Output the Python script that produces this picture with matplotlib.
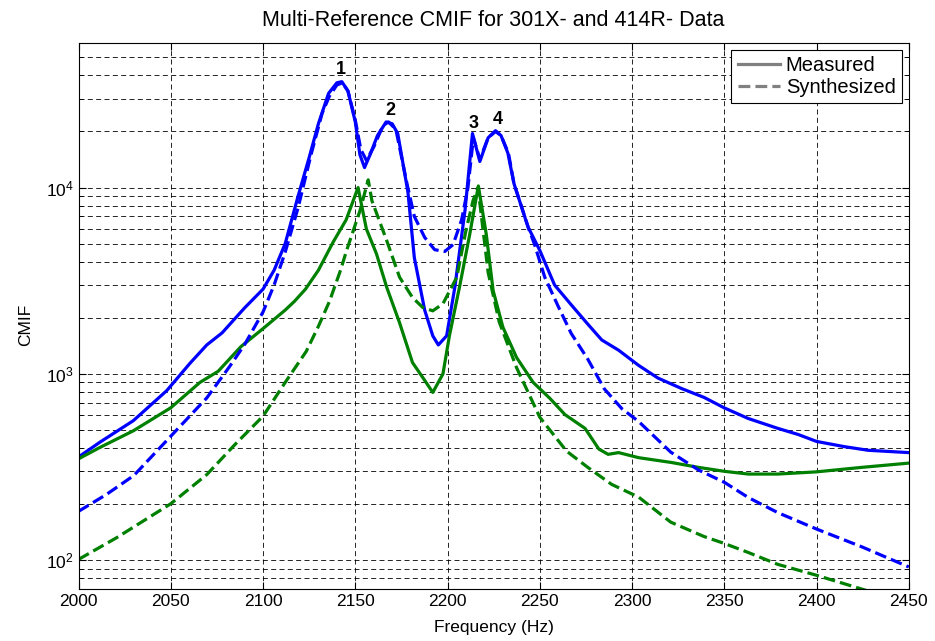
import numpy as np
import matplotlib
matplotlib.use("Agg")
import matplotlib.pyplot as plt
from matplotlib.ticker import LogLocator, MultipleLocator, NullFormatter

plt.rcParams['font.family'] = ['Liberation Sans', 'DejaVu Sans']
plt.rcParams['mathtext.fontset'] = 'custom'
plt.rcParams['mathtext.rm'] = 'Liberation Sans'
plt.rcParams['mathtext.default'] = 'regular'

# Measured CMIF, first singular value (blue)
freq_meas1 = [2000, 2011.6, 2029.7, 2047.8, 2060.4, 2069.5, 2077.8, 2090, 2100, 2106,
              2112, 2119, 2125, 2130, 2135.5, 2140, 2142.7, 2146, 2150, 2152.5,
              2155, 2158, 2162, 2166.7, 2170, 2173, 2178.5, 2182, 2187.6, 2192,
              2195, 2199.5, 2204, 2209.5, 2213.5, 2217.5, 2222, 2226, 2229, 2232.7,
              2236, 2243.6, 2250, 2258, 2267, 2276, 2283.6, 2292.7, 2303.6, 2314,
              2327, 2339, 2350, 2363, 2379, 2390, 2400, 2415, 2428, 2450]
cmif_meas1 = [358, 430, 561, 813, 1140, 1430, 1660, 2260, 2850, 3600,
              5000, 9000, 14500, 22000, 32000, 36500, 37000, 33000, 22500, 15000,
              12800, 15000, 19000, 22500, 22000, 19500, 9500, 4200, 2200, 1600,
              1430, 1600, 2940, 7600, 19500, 13800, 18500, 20200, 19000, 15300,
              10500, 6150, 4600, 3000, 2350, 1850, 1520, 1340, 1110, 950,
              833, 748, 657, 576, 510, 473, 434, 407, 389, 378]

# Synthesized CMIF, first singular value (blue dashed)
freq_syn1 = [2000, 2015, 2030, 2050, 2069.5, 2082, 2090, 2100, 2106, 2112,
             2119, 2126, 2132, 2136, 2140, 2143, 2146, 2150, 2153, 2156,
             2160, 2165, 2168, 2172, 2178, 2182, 2187.6, 2193, 2198.5, 2203,
             2207.6, 2211, 2214, 2217.5, 2222, 2226, 2229, 2233, 2236, 2244,
             2247, 2252.7, 2260, 2267, 2276, 2285, 2294.5, 2303.6, 2321, 2336,
             2350, 2363, 2379, 2400, 2424.5, 2450]
cmif_syn1 = [183, 225, 285, 463, 743, 1100, 1436, 2150, 3000, 4500,
             7800, 15000, 25000, 31000, 35500, 36500, 33000, 23000, 16000, 14000,
             16500, 21500, 22500, 20500, 10500, 7000, 5400, 4640, 4540, 4940,
             6700, 9900, 18500, 14200, 18500, 20000, 19000, 15300, 10500, 6000,
             5000, 3300, 2300, 1650, 1200, 830, 650, 555, 380, 305,
             262, 217, 180, 147, 118, 92]

# Measured CMIF, second singular value (green)
freq_meas2 = [2000, 2011.6, 2029.7, 2050, 2065.8, 2075.7, 2088, 2100, 2112, 2117,
              2123, 2130, 2138, 2145, 2151.5, 2156, 2161.5, 2167, 2174, 2181,
              2186.6, 2192, 2197.5, 2201, 2206.7, 2212, 2216.7, 2221, 2224.7, 2230,
              2237.4, 2246.4, 2255.4, 2263.6, 2274.5, 2282, 2287, 2292.7, 2303.6, 2321,
              2336, 2350, 2363, 2379, 2400, 2424.5, 2450]
cmif_meas2 = [350, 403, 495, 658, 900, 1033, 1400, 1750, 2200, 2450,
              2850, 3600, 5100, 6700, 10000, 6000, 4400, 2920, 1880, 1150,
              955, 795, 1000, 1600, 3000, 5600, 10200, 5600, 2800, 1780,
              1225, 900, 740, 605, 510, 395, 370, 378, 355, 335,
              315, 300, 290, 290, 298, 315, 332]

# Synthesized CMIF, second singular value (green dashed)
freq_syn2 = [2000, 2020.6, 2050, 2069.5, 2085, 2100, 2112, 2123.4, 2130, 2136,
             2142, 2145.3, 2152.5, 2157, 2159, 2167, 2174, 2181, 2186.6, 2192,
             2197.5, 2205, 2210, 2213.8, 2216.5, 2222, 2228, 2237.4, 2250, 2264.5,
             2276, 2289, 2303.6, 2321, 2339, 2350, 2363, 2379, 2400, 2424.5, 2440]
cmif_syn2 = [101, 132, 201, 288, 420, 593, 900, 1320, 1800, 2450,
             3600, 4600, 7500, 11000, 8500, 5200, 3300, 2570, 2270, 2180,
             2380, 3300, 5900, 8500, 10000, 3500, 1900, 1080, 585, 385,
             315, 255, 218, 160, 134, 123, 110, 95, 83, 70, 63]

peak_labels = ['1', '2', '3', '4']
peak_freqs = [2142, 2169, 2214, 2227]

fig = plt.figure(figsize=(9.35, 6.41), dpi=100)
ax = fig.add_axes([0.084, 0.081, 0.888, 0.8526])

lw = 2.3
ax.plot(freq_meas1, cmif_meas1, color='#0000ff', lw=lw)
ax.plot(freq_meas2, cmif_meas2, color='#008000', lw=lw)
ax.plot(freq_syn1, cmif_syn1, color='#0000ff', lw=lw, ls='--')
ax.plot(freq_syn2, cmif_syn2, color='#008000', lw=lw, ls='--')

# legend uses neutral gray lines
ax.plot([], [], color='0.5', lw=lw, label='Measured')
ax.plot([], [], color='0.5', lw=lw, ls='--', label='Synthesized')

ax.set_yscale('log')
ax.set_xlim(2000, 2450)
ax.set_ylim(70, 60000)
ax.xaxis.set_major_locator(MultipleLocator(50))
ax.yaxis.set_major_locator(LogLocator(base=10))
ax.yaxis.set_minor_locator(LogLocator(base=10, subs=np.arange(2, 10)))
ax.yaxis.set_minor_formatter(NullFormatter())

ax.grid(True, which='major', axis='both', color='k', lw=0.6, ls=(0, (6, 4)))
ax.grid(True, which='minor', axis='y', color='k', lw=0.6, ls=(0, (6, 4)))
ax.tick_params(which='both', direction='in', top=True, right=True, labelsize=12.5)
ax.tick_params(which='major', length=5)
ax.tick_params(which='minor', length=3)

# peak numbers above the measured blue curve
for lab, f in zip(peak_labels, peak_freqs):
    v = np.interp(f, freq_meas1, cmif_meas1)
    ax.annotate(lab, (f, v), xytext=(0, 3), textcoords='offset points',
                ha='center', va='bottom', fontsize=13, fontweight='bold')

ax.set_title('Multi-Reference CMIF for 301X- and 414R- Data', fontsize=15.5, pad=12)
ax.set_xlabel('Frequency (Hz)', fontsize=12.5, labelpad=8)
ax.set_ylabel('CMIF', fontsize=12.5)
ax.yaxis.set_label_coords(-0.055, 0.483)

leg = ax.legend(loc='upper right', fontsize=14.5, fancybox=False, framealpha=1,
                edgecolor='k', handlelength=2.1, borderpad=0.3, labelspacing=0.15,
                handletextpad=0.3, borderaxespad=0.35)
leg.get_frame().set_linewidth(0.8)

for s in ax.spines.values():
    s.set_linewidth(0.8)

fig.savefig('out.png', dpi=100)
